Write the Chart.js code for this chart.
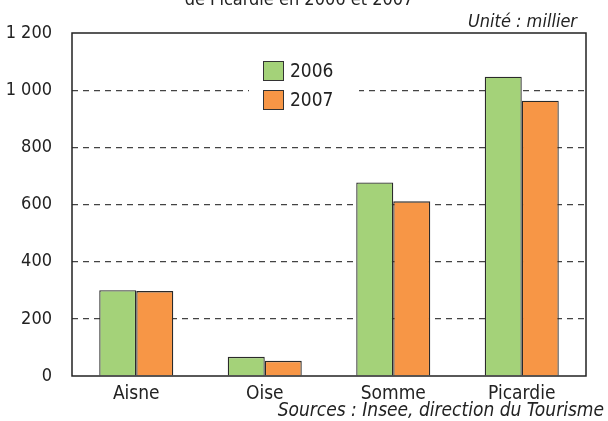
<!DOCTYPE html>
<html>
<head>
<meta charset="utf-8">
<script src="https://cdn.jsdelivr.net/npm/chart.js@4.4.1/dist/chart.umd.min.js"></script>
<style>
  html, body { margin: 0; padding: 0; background: #fff; }
  #wrap { width: 608px; height: 421px; position: relative; }
</style>
</head>
<body>
<div id="wrap"><canvas id="c" width="608" height="421"></canvas></div>
<script>
const categories = ["Aisne", "Oise", "Somme", "Picardie"];
const seriesNames = ["2006", "2007"];
const values2006 = [300, 67, 677, 1047];
const values2007 = [297, 53, 611, 963];
const yTicks = [0, 200, 400, 600, 800, 1000, 1200];
const titleText = "de Picardie en 2006 et 2007";
const unitText = "Unité : millier";
const sourceText = "Sources : Insee, direction du Tourisme";

const FONT = '"Liberation Sans Narrow", "Arial Narrow", "DejaVu Sans Condensed", sans-serif';
const GREEN = "#a4d279";
const ORANGE = "#f79646";

function fmt(v) {
  return String(v).replace(/\B(?=(\d{3})+(?!\d))/g, " ");
}

const decor = {
  id: "decor",
  beforeDatasetsDraw(chart) {
    const ctx = chart.ctx;
    ctx.save();
    ctx.fillStyle = "#fff";
    ctx.fillRect(249, 55, 110, 62);
    const cols = [GREEN, ORANGE];
    const ys = [61, 90];
    ctx.font = "19px " + FONT;
    ctx.textBaseline = "middle";
    ctx.textAlign = "left";
    for (let i = 0; i < 2; i++) {
      ctx.fillStyle = cols[i];
      ctx.fillRect(263.5, ys[i] + 0.5, 20, 19);
      ctx.strokeStyle = "#333";
      ctx.lineWidth = 1;
      ctx.strokeRect(263.5, ys[i] + 0.5, 20, 19);
      ctx.fillStyle = "#222";
      ctx.fillText(seriesNames[i], 290, ys[i] + 11);
    }
    ctx.restore();
  },
  afterDraw(chart) {
    const ctx = chart.ctx;
    const a = chart.chartArea;
    ctx.save();
    ctx.strokeStyle = "#222";
    ctx.lineWidth = 1.5;
    ctx.strokeRect(a.left, a.top, a.right - a.left, a.bottom - a.top);
    ctx.fillStyle = "#222";
    ctx.font = "18px " + FONT;
    ctx.textAlign = "center";
    ctx.textBaseline = "alphabetic";
    ctx.fillText(titleText, 299, 5);
    ctx.font = "italic 18px " + FONT;
    ctx.textAlign = "right";
    ctx.fillText(unitText, 577, 27);
    ctx.font = "italic 19px " + FONT;
    ctx.fillText(sourceText, 604, 416);
    ctx.restore();
  }
};

new Chart(document.getElementById("c"), {
  type: "bar",
  data: {
    labels: categories,
    datasets: [
      { label: seriesNames[0], data: values2006, backgroundColor: GREEN, borderColor: "#2a2a2a", borderWidth: 1.3 },
      { label: seriesNames[1], data: values2007, backgroundColor: ORANGE, borderColor: "#2a2a2a", borderWidth: 1.3 }
    ]
  },
  options: {
    responsive: false,
    animation: false,
    devicePixelRatio: 1,
    layout: { padding: { top: 33, right: 22, left: 0, bottom: 0 } },
    datasets: { bar: { categoryPercentage: 0.576, barPercentage: 1 } },
    plugins: { legend: { display: false }, tooltip: { enabled: false } },
    scales: {
      x: {
        grid: { display: false, drawTicks: false },
        border: { display: false },
        ticks: { color: "#222", font: { family: FONT, size: 19 }, padding: 7, maxRotation: 0 },
        afterFit(s) { s.height = 45; }
      },
      y: {
        min: 0, max: 1200,
        afterBuildTicks(s) { s.ticks = yTicks.map(v => ({ value: v })); },
        grid: {
          drawTicks: false,
          color: ctx => (ctx.tick && (ctx.tick.value === 0 || ctx.tick.value === 1200)) ? "rgba(0,0,0,0)" : "#444",
          lineWidth: 1.2
        },
        border: { display: false, dash: [6, 5] },
        ticks: { color: "#222", font: { family: FONT, size: 18 }, padding: 20, callback: v => fmt(v) },
        afterFit(s) { s.width = 72; }
      }
    }
  },
  plugins: [decor]
});
</script>
</body>
</html>
